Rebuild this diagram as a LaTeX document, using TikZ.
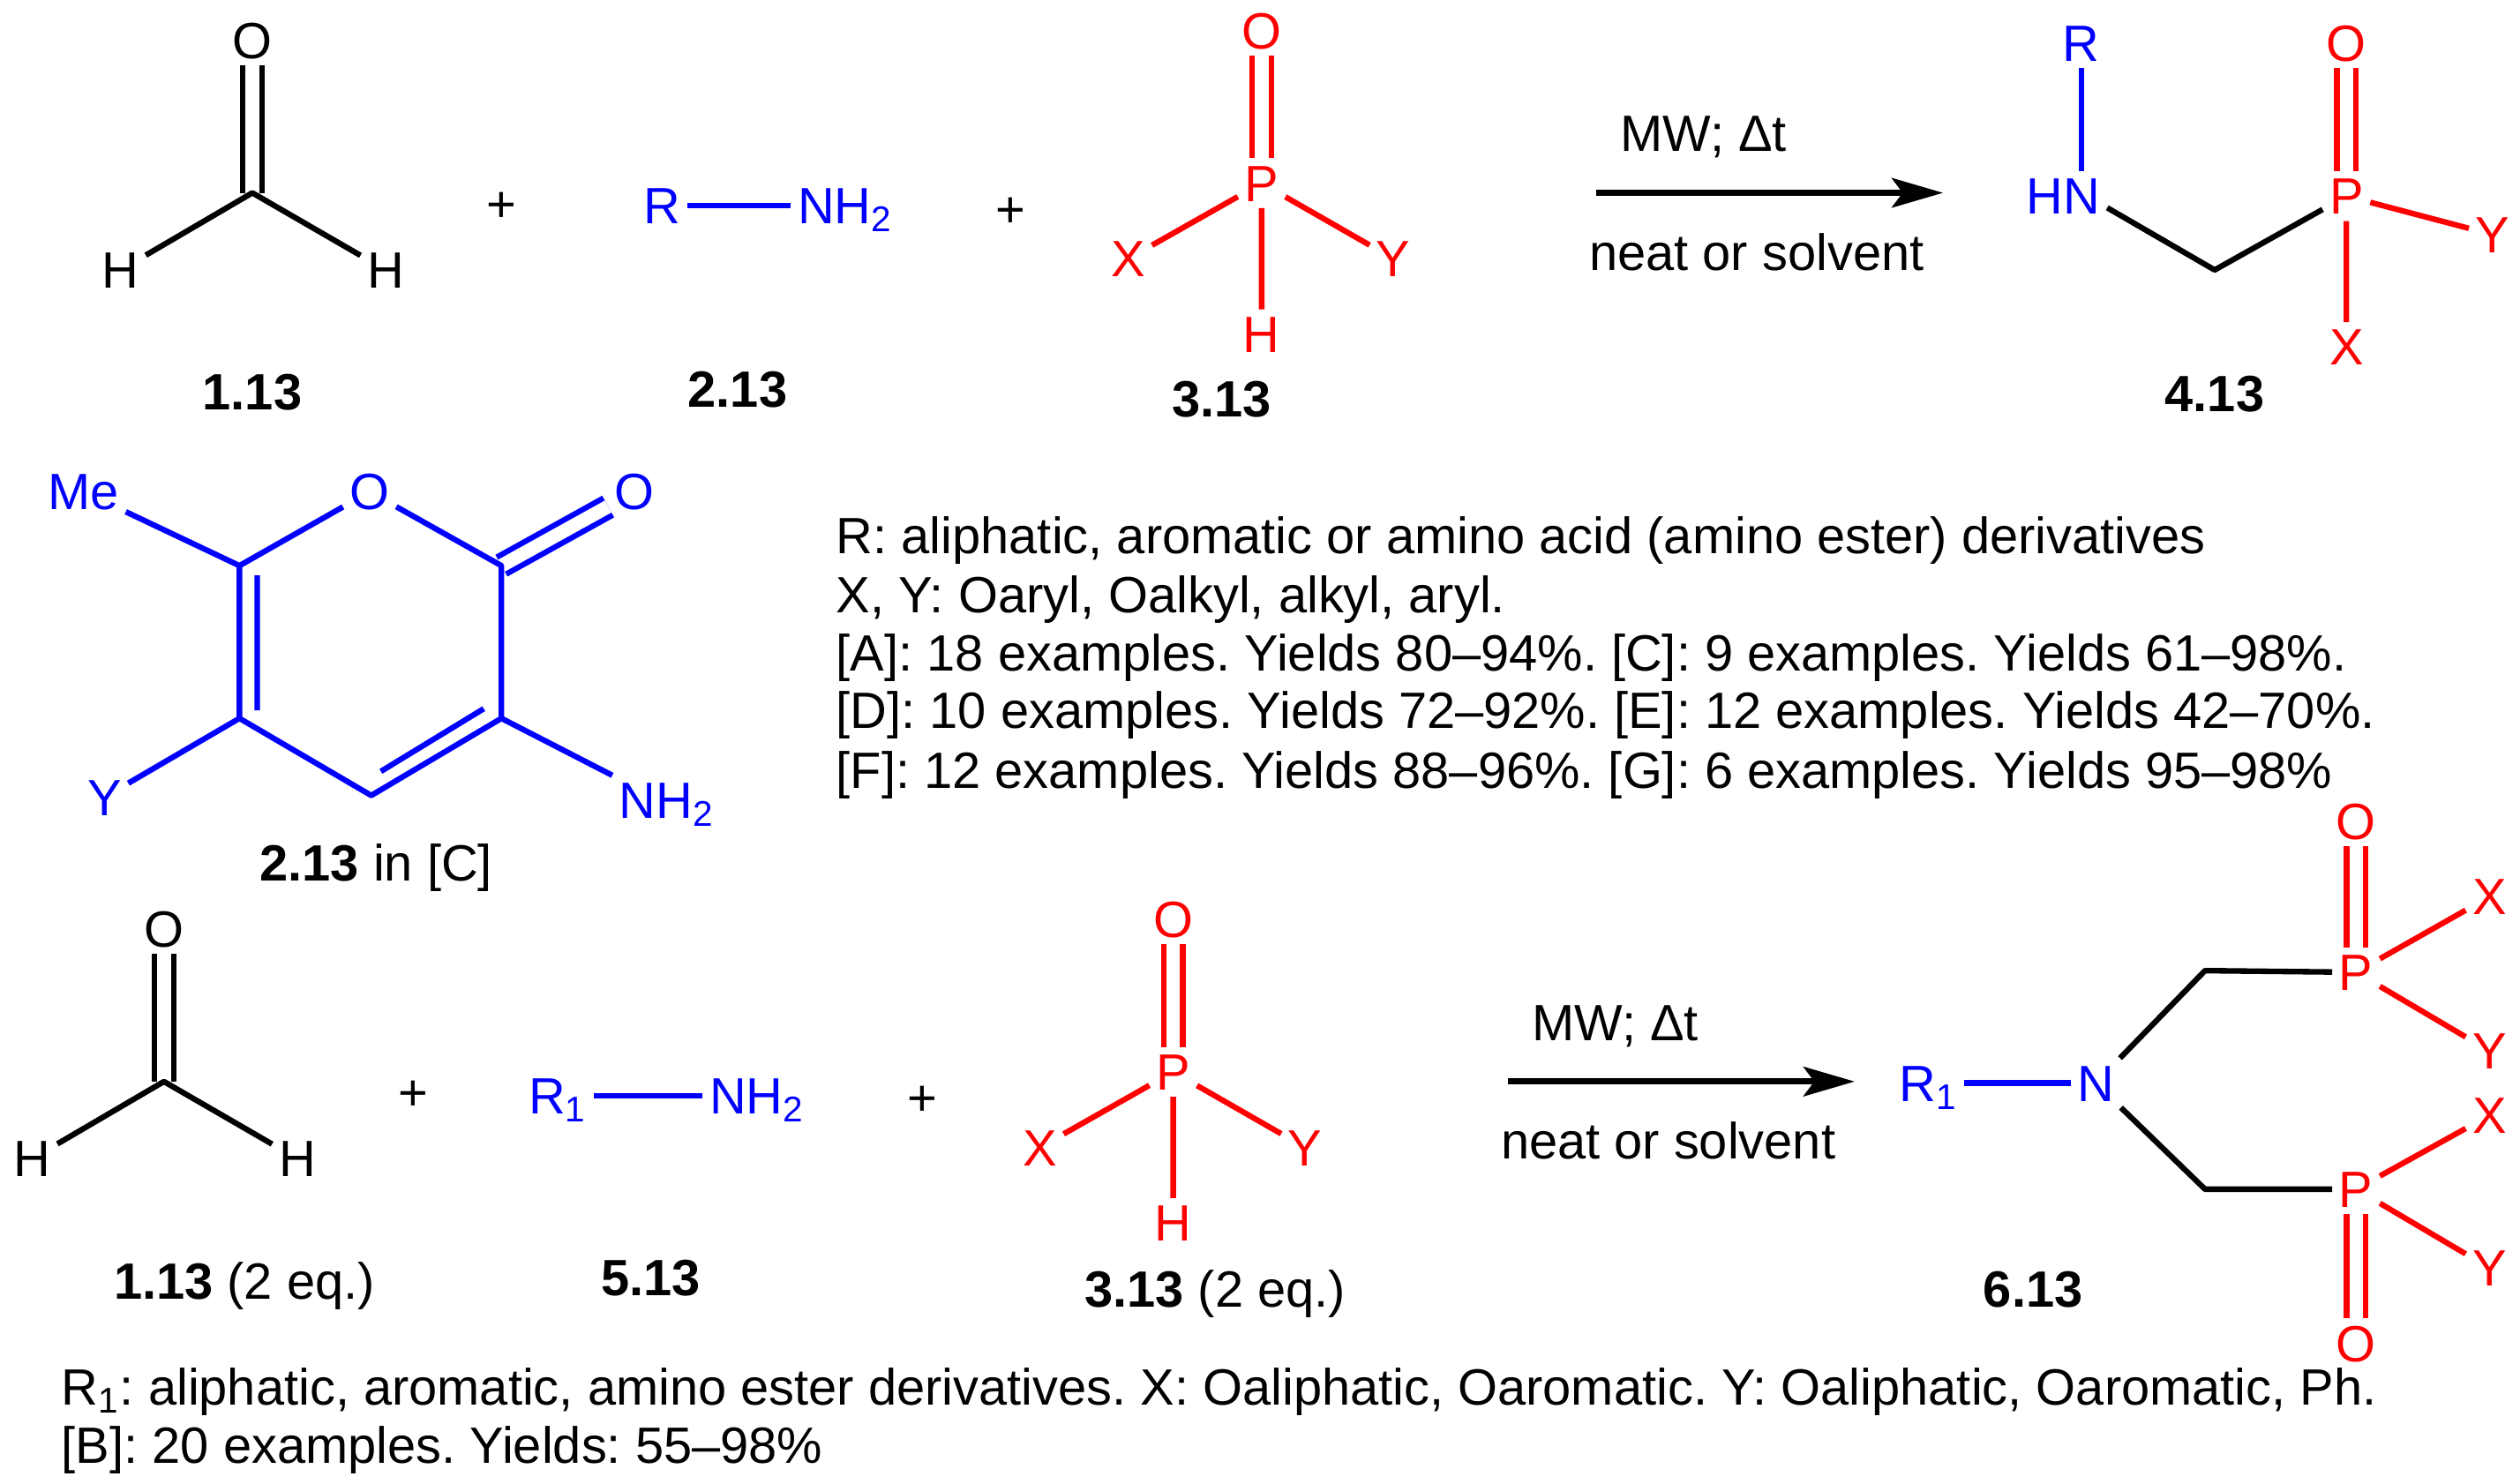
\documentclass[tikz,border=0pt]{standalone}
\usepackage{fontspec}
\setmainfont{Liberation Sans}
\usetikzlibrary{arrows.meta}
\begin{document}
\frenchspacing
\begin{tikzpicture}[x=0.18214mm,y=-0.18214mm,line join=round]
	\tikzset{every node/.style={font=\fontsize{16.45}{18}\selectfont},
		atom/.style={inner sep=2pt,text height=11.7pt,text depth=0pt},
		bond/.style={line width=1.8pt},
		dbl/.style={double,double distance=4.4pt,line width=1.8pt},
		rxn/.style={line width=2pt,-{Stealth[length=16.5pt,width=9.5pt,inset=3.5pt]}},
		line/.style={anchor=west,inner sep=0pt,text height=11.7pt,text depth=0pt}}
	\useasboundingbox (0,0) rectangle (1568,923.45);
	% aldehyde, top and bottom
	\foreach \p/\dx/\dy in {a/0/0,b/-55/553}{
		\begin{scope}[shift={(\dx,\dy)}]
		\node[atom] (O\p) at (157,25) {O};
		\coordinate (C\p) at (157,120);
		\node[atom] (Hl\p) at (75,168) {H};
		\node[atom] (Hr\p) at (240,168) {H};
		\draw[dbl] (O\p)--(C\p);
		\draw[bond] (Hl\p)--(C\p)--(Hr\p);
		\end{scope}
	}
	% phosphorus reagent, top and bottom
	\foreach \p/\dx/\dy in {a/0/0,b/-55/553}{
		\begin{scope}[shift={(\dx,\dy)},red]
		\node[atom] (PO\p) at (785,19) {O};
		\node[atom] (PP\p) at (785,114) {P};
		\node[atom] (PX\p) at (702,161) {X};
		\node[atom] (PY\p) at (867,161) {Y};
		\node[atom] (PH\p) at (785,208) {H};
		\draw[dbl] (PO\p)--(PP\p);
		\draw[bond] (PX\p)--(PP\p)--(PY\p) (PP\p)--(PH\p);
		\end{scope}
	}
	% amines
	\begin{scope}[blue]
	\node[atom] (Ra) at (412,128) {R};
	\node[atom] (Na) at (526,128) {NH\textsubscript{2}};
	\draw[bond] (Ra)--(Na);
	\node[atom] (Rb) at (347,682) {R\textsubscript{1}};
	\node[atom] (Nb) at (471,682) {NH\textsubscript{2}};
	\draw[bond] (Rb)--(Nb);
	\end{scope}
	\node (plus1) at (312,129) {+};
	\node (plus2) at (629,132) {+};
	\node (plus3) at (257,682) {+};
	\node (plus4) at (574,685) {+};
	% pyranone
	\begin{scope}[blue]
	\node[atom] (Me) at (52,306) {Me};
	\node[atom] (Ory) at (230,306) {O};
	\node[atom] (Oex) at (395,306) {O};
	\node[atom] (Yp) at (65,496) {Y};
	\node[atom,anchor=west] (Np) at (381,498) {NH\textsubscript{2}};
	\coordinate (c6) at (149,352);
	\coordinate (c5) at (149,447);
	\coordinate (c4) at (231,495);
	\coordinate (c3) at (312,447);
	\coordinate (c2) at (312,352);
	\coordinate (i1) at (160,358);
	\coordinate (i2) at (160,442);
	\coordinate (i3) at (301,441);
	\coordinate (i4) at (237,480);
	\draw[dbl] (Oex)--(c2);
	\draw[bond] (Me)--(c6)--(Ory)--(c2)--(c3)--(c4)--(c5)--(c6);
	\draw[bond] (c5)--(Yp) (c3)--(Np.north west) (i1)--(i2) (i3)--(i4);
	\end{scope}
	% arrows
	\foreach \p/\dx/\dy in {a/0/0,b/-55/553}{
		\begin{scope}[shift={(\dx,\dy)}]
		\coordinate (as\p) at (993,120);
		\coordinate (ae\p) at (1209,120);
		\draw[rxn] (as\p)--(ae\p);
		\node[atom] (mw\p) at (1060,83) {MW; Δt};
		\node[atom] (ns\p) at (1093,157) {neat or solvent};
		\end{scope}
	}
	% product top
	\node[atom,blue] (Rt) at (1295,27) {R};
	\node[atom,blue] (HN) at (1284,122) {HN};
	\coordinate (Ct) at (1378,168);
	\begin{scope}[red]
	\node[atom] (Pt) at (1460,122) {P};
	\node[atom] (Ot) at (1460,27) {O};
	\node[atom] (Yt) at (1551,146) {Y};
	\node[atom] (Xt) at (1460,216) {X};
	\draw[dbl] (Ot)--(Pt);
	\draw[bond] (Pt)--(Yt) (Pt)--(Xt);
	\end{scope}
	\draw[bond,blue] (Rt)--(Rt|-HN.north);
	\draw[bond] (HN.-15)--(Ct)--(Pt);
	% product bottom
	\node[atom,blue] (R1) at (1200,674) {R\textsubscript{1}};
	\node[atom,blue] (N1) at (1304,674) {N};
	\draw[bond,blue] (R1)--(N1);
	\coordinate (Cu) at (1372,604);
	\coordinate (Cd) at (1372,740);
	\begin{scope}[red]
	\node[atom] (Pu) at (1466,605) {P};
	\node[atom] (Ou) at (1466,511) {O};
	\node[atom] (Xu) at (1549,558) {X};
	\node[atom] (Yu) at (1549,654) {Y};
	\node[atom] (Pd) at (1466,740) {P};
	\node[atom] (Od) at (1466,836) {O};
	\node[atom] (Xd) at (1549,694) {X};
	\node[atom] (Yd) at (1549,789) {Y};
	\draw[dbl] (Ou)--(Pu);
	\draw[dbl] (Od)--(Pd);
	\draw[bond] (Pu)--(Xu) (Pu)--(Yu) (Pd)--(Xd) (Pd)--(Yd);
	\end{scope}
	\draw[bond] (N1)--(Cu)--(Pu) (N1)--(Cd)--(Pd);
	% compound labels
	\node[atom] (l1) at (157,244) {\textbf{1.13}};
	\node[atom] (l2) at (459,242) {\textbf{2.13}};
	\node[atom] (l3) at (760,248) {\textbf{3.13}};
	\node[atom] (l4) at (1378,245) {\textbf{4.13}};
	\node[atom] (l5) at (234,537) {\textbf{2.13} in [C]};
	\node[atom] (l6) at (152,797) {\textbf{1.13} (2 eq.)};
	\node[atom] (l7) at (405,795) {\textbf{5.13}};
	\node[atom] (l8) at (756,802) {\textbf{3.13} (2 eq.)};
	\node[atom] (l9) at (1265,802) {\textbf{6.13}};
	% text
	\foreach \y/\txt in {333/{R: aliphatic, aromatic or amino acid (amino ester) derivatives},
		370/{X, Y: Oaryl, Oalkyl, alkyl, aryl.},
		406/{[A]: 18 examples. Yields 80--94\%. [C]: 9 examples. Yields 61--98\%.},
		442/{[D]: 10 examples. Yields 72--92\%. [E]: 12 examples. Yields 42--70\%.},
		479/{[F]: 12 examples. Yields 88--96\%. [G]: 6 examples. Yields 95--98\%}}
	\node[line] (t\y) at (520,\y) {\txt};
	\foreach \y/\txt in {863/{R\textsubscript{1}: aliphatic, aromatic, amino ester derivatives. X: Oaliphatic, Oaromatic. Y: Oaliphatic, Oaromatic, Ph.},
		899/{[B]: 20 examples. Yields: 55--98\%}}
	\node[line] (t\y) at (38,\y) {\txt};
\end{tikzpicture}
\end{document}
